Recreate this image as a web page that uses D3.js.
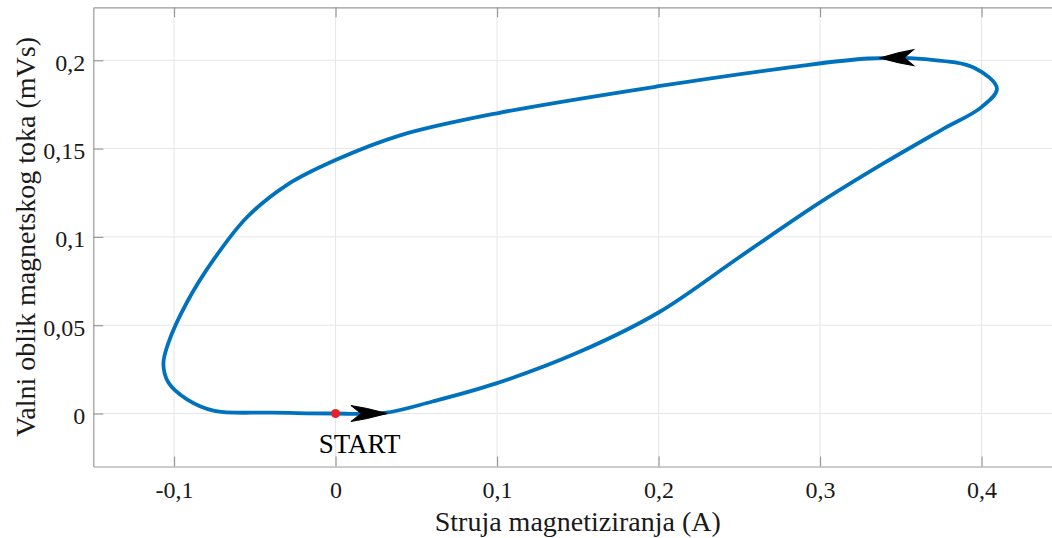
<!DOCTYPE html>
<html>
<head>
<meta charset="utf-8">
<script src="https://cdn.jsdelivr.net/npm/d3@7"></script>
<style>
  html, body { margin: 0; padding: 0; background: #fff; }
  svg { display: block; font-family: "Liberation Serif", "Times New Roman", serif; }
</style>
</head>
<body>
<svg id="chart" width="1052" height="538"></svg>
<script>
// ---- data ----
const loopX = [0, 0.03, 0.06, 0.10, 0.15, 0.20, 0.25, 0.30, 0.34, 0.375, 0.40, 0.4095, 0.396, 0.365, 0.33, 0.28, 0.20, 0.10, 0.04, 0.0, -0.03, -0.055, -0.075, -0.092, -0.1035, -0.1066, -0.1035, -0.092, -0.075, -0.04];
const loopY = [0, 0.0003, 0.0068, 0.0172, 0.0345, 0.0572, 0.0885, 0.1195, 0.1420, 0.1605, 0.1735, 0.1840, 0.1955, 0.2006, 0.2010, 0.1958, 0.1853, 0.1700, 0.1575, 0.1435, 0.1295, 0.1110, 0.0878, 0.0630, 0.0400, 0.0280, 0.0175, 0.0080, 0.0015, 0.0005];
const arrowTipX = [0.032, 0.337];
const arrowTipY = [0.0, 0.2013];
const arrowTailX = [0.0095, 0.358];
const arrowTailY = [0.0, 0.2015];
const startPoint = [0, 0];
const startLabel = "START";
const xTicks = [-0.1, 0, 0.1, 0.2, 0.3, 0.4];
const xTickLabels = ["-0,1", "0", "0,1", "0,2", "0,3", "0,4"];
const yTicks = [0, 0.05, 0.1, 0.15, 0.2];
const yTickLabels = ["0", "0,05", "0,1", "0,15", "0,2"];
const xTitle = "Struja magnetiziranja (A)";
const yTitle = "Valni oblik magnetskog toka (mVs)";

// ---- layout ----
const svg = d3.select("#chart");
const L = 93.3, T = 7.3, R = 1062.3, B = 466.5;
const x = d3.scaleLinear().domain([-0.15, 0.45]).range([L, R]);
const y = d3.scaleLinear().domain([-0.03, 0.23]).range([B, T]);
const axisColor = "#9a9a9a";
const textColor = "#1a1a1a";

// grid
const grid = svg.append("g");
grid.selectAll("line.gx").data(xTicks).join("line")
  .attr("x1", d => x(d)).attr("x2", d => x(d)).attr("y1", T).attr("y2", B)
  .attr("stroke", "#e6e6e6").attr("stroke-width", 1);
grid.selectAll("line.gy").data(yTicks).join("line")
  .attr("x1", L).attr("x2", R).attr("y1", d => y(d)).attr("y2", d => y(d))
  .attr("stroke", "#e6e6e6").attr("stroke-width", 1);

// axes
const fmtX = d => xTickLabels[xTicks.indexOf(d)];
const fmtY = d => yTickLabels[yTicks.indexOf(d)];

const gx = svg.append("g").attr("transform", `translate(0,${B})`)
  .call(d3.axisBottom(x).tickValues(xTicks).tickFormat(fmtX).tickSizeInner(-10).tickSizeOuter(0));
gx.selectAll("text").attr("y", 31).attr("dy", 0).attr("font-size", 24).attr("fill", textColor)
  .attr("font-family", "Liberation Serif");
const gy = svg.append("g").attr("transform", `translate(${L},0)`)
  .call(d3.axisLeft(y).tickValues(yTicks).tickFormat(fmtY).tickSizeInner(-10).tickSizeOuter(0));
gy.selectAll("text").attr("x", -8).attr("dy", "0.42em").attr("font-size", 24).attr("fill", textColor)
  .attr("font-family", "Liberation Serif");
const gt = svg.append("g").attr("transform", `translate(0,${T})`)
  .call(d3.axisTop(x).tickValues(xTicks).tickFormat("").tickSizeInner(-10).tickSizeOuter(0));
const gr = svg.append("g").attr("transform", `translate(${R},0)`)
  .call(d3.axisRight(y).tickValues(yTicks).tickFormat("").tickSizeInner(-10).tickSizeOuter(0));
[gx, gy, gt, gr].forEach(g => {
  g.select(".domain").attr("stroke", axisColor).attr("stroke-width", 1.2);
  g.selectAll(".tick line").attr("stroke", axisColor).attr("stroke-width", 1.2);
});

// loop curve
const pts = loopX.map((v, i) => [v, loopY[i]]);
const line = d3.line().x(d => x(d[0])).y(d => y(d[1])).curve(d3.curveCatmullRomClosed.alpha(0.5));
svg.append("path").datum(pts).attr("d", line)
  .attr("fill", "none").attr("stroke", "#0072BD").attr("stroke-width", 3.8)
  .attr("stroke-linejoin", "round").attr("stroke-linecap", "round");

// arrows
arrowTipX.forEach((tx, i) => {
  const px = x(tx), py = y(arrowTipY[i]);
  const bx = x(arrowTailX[i]), by = y(arrowTailY[i]);
  const ang = Math.atan2(py - by, px - bx);
  const len = Math.hypot(px - bx, py - by);
  const W = 8;
  const p = d3.path();
  p.moveTo(0, 0);
  p.lineTo(-len * 0.55, -5);
  p.lineTo(-len, -W);
  p.lineTo(-len * 0.72, 0);
  p.lineTo(-len, W);
  p.lineTo(-len * 0.55, 5);
  p.closePath();
  svg.append("path").attr("d", p.toString())
    .attr("transform", `translate(${px},${py}) rotate(${ang * 180 / Math.PI})`)
    .attr("fill", "#000").attr("stroke", "#000").attr("stroke-width", 1);
});

// start point
svg.append("circle").attr("cx", x(startPoint[0])).attr("cy", y(startPoint[1])).attr("r", 4.5)
  .attr("fill", "#e8202a");
svg.append("text").attr("x", x(startPoint[0]) + 24).attr("y", y(startPoint[1]) + 39)
  .attr("text-anchor", "middle").attr("font-size", 27).attr("fill", "#000").text(startLabel);

// titles
svg.append("text").attr("x", (L + R) / 2).attr("y", 531).attr("text-anchor", "middle")
  .attr("font-size", 28).attr("fill", textColor).text(xTitle);
svg.append("text").attr("transform", `translate(35,${(T + B) / 2}) rotate(-90)`)
  .attr("text-anchor", "middle").attr("font-size", 28).attr("fill", textColor).text(yTitle);
</script>
</body>
</html>
